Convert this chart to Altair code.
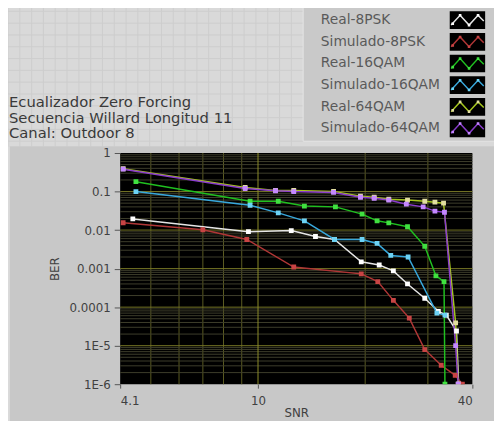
import altair as alt
import pandas as pd

# ---------------- data ----------------
series_names = ["Real-8PSK", "Simulado-8PSK", "Real-16QAM",
                "Simulado-16QAM", "Real-64QAM", "Simulado-64QAM"]
line_colors = ["#e6e6e6", "#b03636", "#20c020", "#38a8dc", "#a4c41e", "#8a3ccc"]
marker_colors = ["#ffffff", "#c84444", "#40e040", "#6cd2f4", "#e2dea0", "#c488ff"]

snr_real_8psk = [4.45, 9.4, 12.4, 14.5, 16.4, 19.5, 21.9, 24.0, 26.3, 29.4, 32.1, 33.8, 36.1, 36.6]
ber_real_8psk = [0.0195, 0.0091, 0.0097, 0.0068, 0.0057, 0.0015, 0.00124, 8.7e-4, 4.0e-4,
                 1.7e-4, 7.8e-5, 6.2e-5, 2.4e-5, 1e-6]

snr_sim_8psk = [4.18, 7.0, 9.3, 12.6, 19.5, 21.7, 24.0, 26.6, 29.4, 32.7, 35.8, 37.5]
ber_sim_8psk = [0.0155, 0.0102, 0.0057, 0.0011, 7.3e-4, 4.6e-4, 1.5e-4, 5.2e-5, 7.9e-6,
                3.1e-6, 1.7e-6, 1e-6]

snr_real_16qam = [4.54, 9.5, 11.4, 13.5, 16.5, 19.6, 21.6, 23.3, 26.3, 29.4, 31.6, 33.3, 33.5]
ber_real_16qam = [0.18, 0.056, 0.056, 0.042, 0.040, 0.026, 0.0174, 0.0154, 0.0122, 0.0038,
                  6.5e-4, 4.6e-4, 1e-6]

snr_sim_16qam = [4.54, 9.5, 11.4, 13.5, 16.4, 19.6, 21.6, 23.6, 26.4, 31.8, 33.5]
ber_sim_16qam = [0.10, 0.044, 0.028, 0.0174, 0.0057, 0.0057, 0.0045, 0.0022, 0.0020, 7e-5, 6.2e-5]

snr_real_64qam = [4.18, 9.2, 11.2, 12.6, 16.3, 19.4, 21.2, 23.3, 26.3, 29.4, 31.4, 33.2, 35.9, 36.5]
ber_real_64qam = [0.39, 0.128, 0.107, 0.107, 0.101, 0.0755, 0.071, 0.063, 0.060, 0.056, 0.053,
                  0.050, 3.9e-5, 1e-6]

snr_sim_64qam = [4.18, 9.2, 11.2, 12.6, 16.3, 19.4, 21.2, 23.3, 26.1, 29.1, 31.4, 33.4, 35.9, 36.5]
ber_sim_64qam = [0.38, 0.12, 0.105, 0.10, 0.095, 0.071, 0.067, 0.06, 0.047, 0.040, 0.031,
                 0.029, 1e-5, 1e-6]

x_tick_values = [4.1, 10, 40]
x_tick_labels = ["4.1", "10", "40"]
y_tick_values = [1, 0.1, 0.01, 0.001, 0.0001, 1e-5, 1e-6]
y_tick_labels = ["1", "0.1", "0.01", "0.001", "0.0001", "1E-5", "1E-6"]

x_grid_major = [10]
x_grid_minor = [5, 6, 7, 8, 9, 20, 30]
y_grid_major = [0.1, 0.01, 0.001, 0.0001, 1e-5]
y_grid_minor = [m * 10.0 ** k for k in range(-6, 0) for m in range(2, 10)]

title_lines = ["Ecualizador Zero Forcing", "Secuencia Willard Longitud 11", "Canal: Outdoor 8"]

# ---------------- build table ----------------
all_snr = [snr_real_8psk, snr_sim_8psk, snr_real_16qam, snr_sim_16qam, snr_real_64qam, snr_sim_64qam]
all_ber = [ber_real_8psk, ber_sim_8psk, ber_real_16qam, ber_sim_16qam, ber_real_64qam, ber_sim_64qam]
rows = []
for name, xs, ys in zip(series_names, all_snr, all_ber):
    for i, (a, b) in enumerate(zip(xs, ys)):
        rows.append({"series": name, "idx": i, "snr": a, "ber": b})
df = pd.DataFrame(rows)

W, H = 358, 235
FONT = "DejaVu Sans"

xscale = alt.Scale(type="log", domain=[4.1, 40], nice=False)
yscale = alt.Scale(type="log", domain=[1e-6, 1], nice=False)


def expr_labels(vals, labs):
    e = "''"
    for v, l in zip(vals, labs):
        e = f"(abs(datum.value - {v}) < {v}*0.01 ? '{l}' : {e})"
    return e


xaxis = alt.Axis(values=x_tick_values, labelExpr=expr_labels(x_tick_values, x_tick_labels),
                 title="SNR", grid=False, domain=False, tickSize=4, tickColor="#555555",
                 labelPadding=8, labelFontSize=12, labelColor="#404040", labelFont=FONT,
                 titleFont=FONT, titleFontSize=12, titleFontWeight="normal", titleColor="#404040",
                 titlePadding=1, zindex=2)
yaxis = alt.Axis(values=y_tick_values, labelExpr=expr_labels(y_tick_values, y_tick_labels),
                 title="BER", grid=False, domain=False, tickSize=6, tickColor="#555555",
                 labelPadding=4, labelFontSize=12, labelColor="#404040", labelFont=FONT,
                 titleFont=FONT, titleFontSize=12, titleFontWeight="normal", titleColor="#404040",
                 titlePadding=8, zindex=2)

one = pd.DataFrame({"k": [0]})

# faint front-panel grid in the upper area (decoration)
panel_grid_x = pd.DataFrame({"v": list(range(-114, 186, 12))})
panel_grid_y = pd.DataFrame({"v": list(range(-144, -7, 12))})
pgx = alt.Chart(panel_grid_x).mark_rule(color="#cdcdcd", strokeWidth=1).encode(
    x=alt.X("v:Q", scale=None), y=alt.value(-152), y2=alt.value(-7))
pgy = alt.Chart(panel_grid_y).mark_rule(color="#cdcdcd", strokeWidth=1).encode(
    y=alt.Y("v:Q", scale=None), x=alt.value(-122), x2=alt.value(186))

# backgrounds
panel = alt.Chart(one).mark_rect(color="#c8c8c8").encode(
    x=alt.value(-122), x2=alt.value(W + 30), y=alt.value(-7), y2=alt.value(H + 40))
panel_edge = alt.Chart(one).mark_rect(color="#dadada").encode(
    x=alt.value(-122), x2=alt.value(-112), y=alt.value(-7), y2=alt.value(H + 40))
plotbg = alt.Chart(one).mark_rect(color="#000000").encode(
    x=alt.value(0), x2=alt.value(W), y=alt.value(0), y2=alt.value(H))

legend_panel = alt.Chart(one).mark_rect(color="#c9c9c9", stroke="#e4e4e4", strokeWidth=1).encode(
    x=alt.value(186), x2=alt.value(W + 30), y=alt.value(-160), y2=alt.value(-12))

# grids
vmin = alt.Chart(pd.DataFrame({"g": x_grid_minor})).mark_rule(color="#5c5c22", strokeWidth=1).encode(
    x=alt.X("g:Q", scale=xscale, axis=xaxis))
vmaj = alt.Chart(pd.DataFrame({"g": x_grid_major})).mark_rule(color="#8e8e2a", strokeWidth=1).encode(
    x=alt.X("g:Q", scale=xscale, axis=xaxis))
hmin = alt.Chart(pd.DataFrame({"g": y_grid_minor})).mark_rule(color="#3e3e2c", strokeWidth=1).encode(
    y=alt.Y("g:Q", scale=yscale, axis=yaxis))
hmaj = alt.Chart(pd.DataFrame({"g": y_grid_major})).mark_rule(color="#767626", strokeWidth=1).encode(
    y=alt.Y("g:Q", scale=yscale, axis=yaxis))

lines = alt.Chart(df).mark_line(strokeWidth=1.5, clip=True).encode(
    x=alt.X("snr:Q", scale=xscale, axis=xaxis),
    y=alt.Y("ber:Q", scale=yscale, axis=yaxis),
    color=alt.Color("series:N", scale=alt.Scale(domain=series_names, range=line_colors), legend=None),
    order=alt.Order("idx:Q"),
)
points = alt.Chart(df).mark_point(shape="square", size=24, filled=True, opacity=1,
                                  strokeWidth=0, clip=True).encode(
    x=alt.X("snr:Q", scale=xscale, axis=xaxis),
    y=alt.Y("ber:Q", scale=yscale, axis=yaxis),
    fill=alt.Fill("series:N", scale=alt.Scale(domain=series_names, range=marker_colors), legend=None),
)

# title text block
title_text = alt.Chart(one).mark_text(
    align="left", baseline="middle", font=FONT, fontSize=15, color="#3a3a3a",
    lineBreak="\n", lineHeight=16).encode(
    x=alt.value(-113), y=alt.value(-52), text=alt.value("\n".join(title_lines)))

# legend (one row per series)
zig = "M-1,0.3L-0.45,-0.3L0.1,0.3L0.65,-0.3L1,0.05"
sq = ""
for (px, py) in [(-0.9, 0.22), (-0.45, -0.3), (0.1, 0.3), (0.65, -0.3)]:
    sq += f"M{px-0.08:.2f},{py-0.08:.2f}h0.16v0.16h-0.16Z"

legend_layers = []
for i, (name, lc, mc) in enumerate(zip(series_names, line_colors, marker_colors)):
    ly = -135 + 22 * i
    legend_layers.append(alt.Chart(one).mark_rect(color="#000000").encode(
        x=alt.value(335), x2=alt.value(371), y=alt.value(ly - 9), y2=alt.value(ly + 9)))
    legend_layers.append(alt.Chart(one).mark_point(
        shape=zig, size=1100, filled=False, strokeWidth=1.5, opacity=1, color=lc).encode(
        x=alt.value(353), y=alt.value(ly)))
    legend_layers.append(alt.Chart(one).mark_point(
        shape=sq, size=1100, filled=True, strokeWidth=0, opacity=1, color=mc).encode(
        x=alt.value(353), y=alt.value(ly)))
    legend_layers.append(alt.Chart(one).mark_text(
        align="left", baseline="middle", font=FONT, fontSize=14, color="#5a5a5a").encode(
        x=alt.value(204), y=alt.value(ly), text=alt.value(name)))

chart = alt.layer(
    pgx, pgy, panel, panel_edge, plotbg, legend_panel,
    vmin, hmin, hmaj, vmaj, lines, points,
    title_text, *legend_layers,
).properties(
    width=W, height=H,
    autosize=alt.AutoSizeParams(type="none"),
    padding={"left": 114, "top": 144, "right": 22, "bottom": 34},
    background="#d9d9d9",
).configure_view(stroke=None)

chart.save("out.html", embed_options={"renderer": "svg", "actions": False})
